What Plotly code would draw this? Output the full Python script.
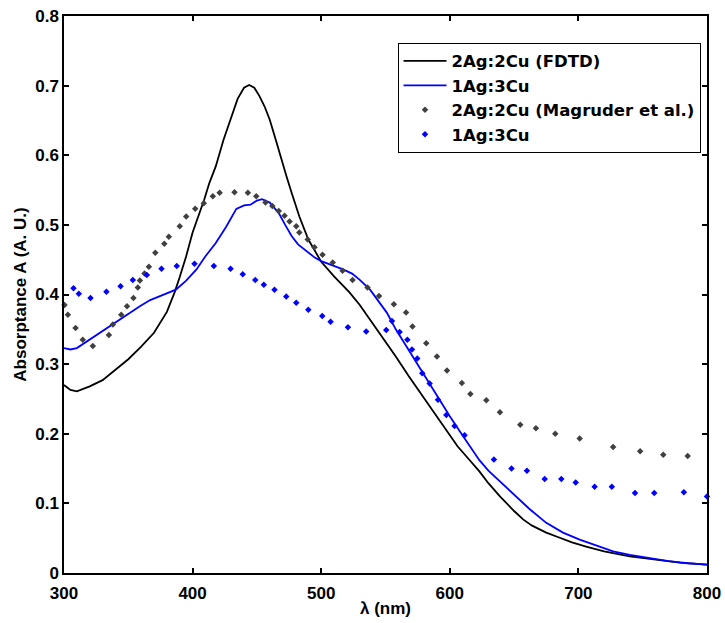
import plotly.graph_objects as go

# FDTD 2Ag:2Cu (black line)
fdtd_22_x = [300, 305, 310, 320, 330, 340, 350, 360, 370, 380, 386, 390, 395, 400, 405, 409, 413, 418, 424, 430, 435, 440, 444, 448, 452, 456, 460, 465, 469, 473, 477, 483, 490, 495, 500, 510, 522, 530, 538, 548, 558, 568, 579, 590, 600, 606, 615, 623, 630, 639, 650, 657, 664, 675, 685, 695, 706, 720, 740, 760, 779, 800]
fdtd_22_y = [0.270, 0.263, 0.261, 0.268, 0.277, 0.292, 0.307, 0.325, 0.345, 0.375, 0.403, 0.425, 0.455, 0.489, 0.515, 0.536, 0.560, 0.584, 0.622, 0.656, 0.681, 0.697, 0.701, 0.697, 0.685, 0.670, 0.651, 0.620, 0.594, 0.570, 0.546, 0.512, 0.479, 0.462, 0.447, 0.426, 0.403, 0.385, 0.364, 0.337, 0.311, 0.283, 0.254, 0.226, 0.198, 0.182, 0.163, 0.146, 0.129, 0.110, 0.089, 0.077, 0.068, 0.058, 0.051, 0.044, 0.038, 0.031, 0.024, 0.019, 0.015, 0.012]

# FDTD 1Ag:3Cu (blue line)
fdtd_13_x = [300, 305, 310, 318, 328, 340, 350, 359, 367, 374, 381, 387, 395, 403, 410, 418, 426, 434, 440, 445, 450, 454, 460, 467, 472, 477, 482, 488, 495, 500, 510, 517, 524, 530, 538, 545, 551, 558, 566, 574, 582, 590, 600, 608, 617, 623, 630, 640, 649, 662, 675, 688, 701, 714, 727, 740, 753, 770, 785, 800]
fdtd_13_y = [0.323, 0.321, 0.323, 0.333, 0.345, 0.360, 0.372, 0.383, 0.392, 0.397, 0.402, 0.407, 0.420, 0.436, 0.455, 0.474, 0.497, 0.523, 0.528, 0.529, 0.535, 0.537, 0.532, 0.517, 0.500, 0.484, 0.472, 0.463, 0.453, 0.448, 0.441, 0.436, 0.430, 0.421, 0.407, 0.390, 0.374, 0.350, 0.326, 0.302, 0.278, 0.253, 0.225, 0.203, 0.178, 0.162, 0.147, 0.130, 0.115, 0.092, 0.072, 0.058, 0.048, 0.039, 0.031, 0.026, 0.022, 0.017, 0.014, 0.012]

# Magruder et al. 2Ag:2Cu (grey markers)
mag_22_x = [300.4, 303, 309, 314.6, 322.4, 334.9, 338, 344.5, 349, 354, 357.4, 359, 362.6, 366, 371, 378, 381.5, 390, 395, 402, 408.7, 415.7, 421, 432.6, 443, 449.5, 456.7, 462, 467, 471.5, 475.4, 480.6, 483, 489.5, 494.8, 501, 509, 516.6, 524.4, 536, 545, 556.5, 566, 571, 581.7, 590, 597.8, 609.4, 616, 628.4, 639, 654.8, 667, 682, 701, 727, 748, 766, 785]
mag_22_y = [0.385, 0.371, 0.352, 0.335, 0.326, 0.342, 0.357, 0.371, 0.383, 0.395, 0.410, 0.420, 0.430, 0.440, 0.460, 0.473, 0.483, 0.498, 0.512, 0.523, 0.531, 0.541, 0.546, 0.547, 0.546, 0.541, 0.532, 0.527, 0.520, 0.513, 0.505, 0.498, 0.489, 0.479, 0.468, 0.457, 0.446, 0.434, 0.421, 0.410, 0.398, 0.386, 0.374, 0.354, 0.330, 0.311, 0.291, 0.273, 0.257, 0.248, 0.231, 0.213, 0.208, 0.200, 0.193, 0.181, 0.175, 0.170, 0.168]

# Magruder et al. 1Ag:3Cu (blue markers)
mag_13_x = [307.4, 311.5, 320.6, 333, 344, 353.5, 364.4, 375.8, 387.7, 401.5, 416.5, 429.5, 439, 448.7, 455.4, 463.7, 472.8, 480.6, 490, 500.8, 507.3, 520.8, 535, 550.6, 555, 561, 567, 570.6, 574.7, 578.6, 584.3, 590.8, 597.3, 603.7, 611.5, 634.3, 648, 660, 673.8, 686.7, 697.9, 712.6, 726, 744, 759, 782, 800]
mag_13_y = [0.409, 0.401, 0.395, 0.404, 0.412, 0.421, 0.428, 0.437, 0.441, 0.444, 0.441, 0.437, 0.429, 0.421, 0.414, 0.407, 0.397, 0.388, 0.378, 0.369, 0.361, 0.353, 0.347, 0.349, 0.362, 0.346, 0.335, 0.321, 0.308, 0.287, 0.272, 0.249, 0.227, 0.211, 0.198, 0.163, 0.150, 0.147, 0.135, 0.135, 0.130, 0.124, 0.124, 0.115, 0.115, 0.116, 0.110]

x_ticks = [300, 400, 500, 600, 700, 800]
y_ticks = [0, 0.1, 0.2, 0.3, 0.4, 0.5, 0.6, 0.7, 0.8]
y_tick_labels = ["0", "0.1", "0.2", "0.3", "0.4", "0.5", "0.6", "0.7", "0.8"]

FONT = "Liberation Sans, Arial, sans-serif"
LEGEND_FONT = "DejaVu Sans, Liberation Sans, sans-serif"

fig = go.Figure()
fig.add_trace(go.Scatter(x=fdtd_22_x, y=fdtd_22_y, mode="lines", name="2Ag:2Cu (FDTD)",
                         line=dict(color="black", width=1.8)))
fig.add_trace(go.Scatter(x=fdtd_13_x, y=fdtd_13_y, mode="lines", name="1Ag:3Cu",
                         line=dict(color="#0000ff", width=1.8)))
fig.add_trace(go.Scatter(x=mag_22_x, y=mag_22_y, mode="markers", name="2Ag:2Cu (Magruder et al.)",
                         marker=dict(color="#404040", size=5, symbol="diamond"),
                         cliponaxis=False))
fig.add_trace(go.Scatter(x=mag_13_x, y=mag_13_y, mode="markers", name="1Ag:3Cu",
                         marker=dict(color="#0000ff", size=5, symbol="diamond"),
                         cliponaxis=False))

axis_common = dict(showline=True, linecolor="black", linewidth=1.5, mirror="ticks",
                   ticks="inside", ticklen=5, tickwidth=1.5, tickcolor="black",
                   showgrid=False, zeroline=False, automargin=False,
                   tickfont=dict(family=FONT, size=17, color="black", weight="bold"))

fig.update_layout(
    width=725, height=623,
    margin=dict(l=64, r=18, t=16, b=50),
    plot_bgcolor="white", paper_bgcolor="white",
    font=dict(family=FONT, color="black"),
    xaxis=dict(range=[300, 800], tickvals=x_ticks, ticklabelstandoff=4,
               title=dict(text="λ (nm)", font=dict(family=FONT, size=17, weight="bold"), standoff=0),
               **axis_common),
    yaxis=dict(range=[0, 0.8], tickvals=y_ticks, ticktext=y_tick_labels,
               title=dict(text="Absorptance A (A. U.)", font=dict(family=FONT, size=17, weight="bold"), standoff=4),
               **axis_common),
    legend=dict(x=0.5187, y=0.952, xanchor="left", yanchor="top",
                bordercolor="black", borderwidth=1, bgcolor="white",
                font=dict(family=LEGEND_FONT, size=16.5, color="black", weight="bold"),
                itemwidth=43),
    showlegend=True,
)

fig.write_html("out.html")
